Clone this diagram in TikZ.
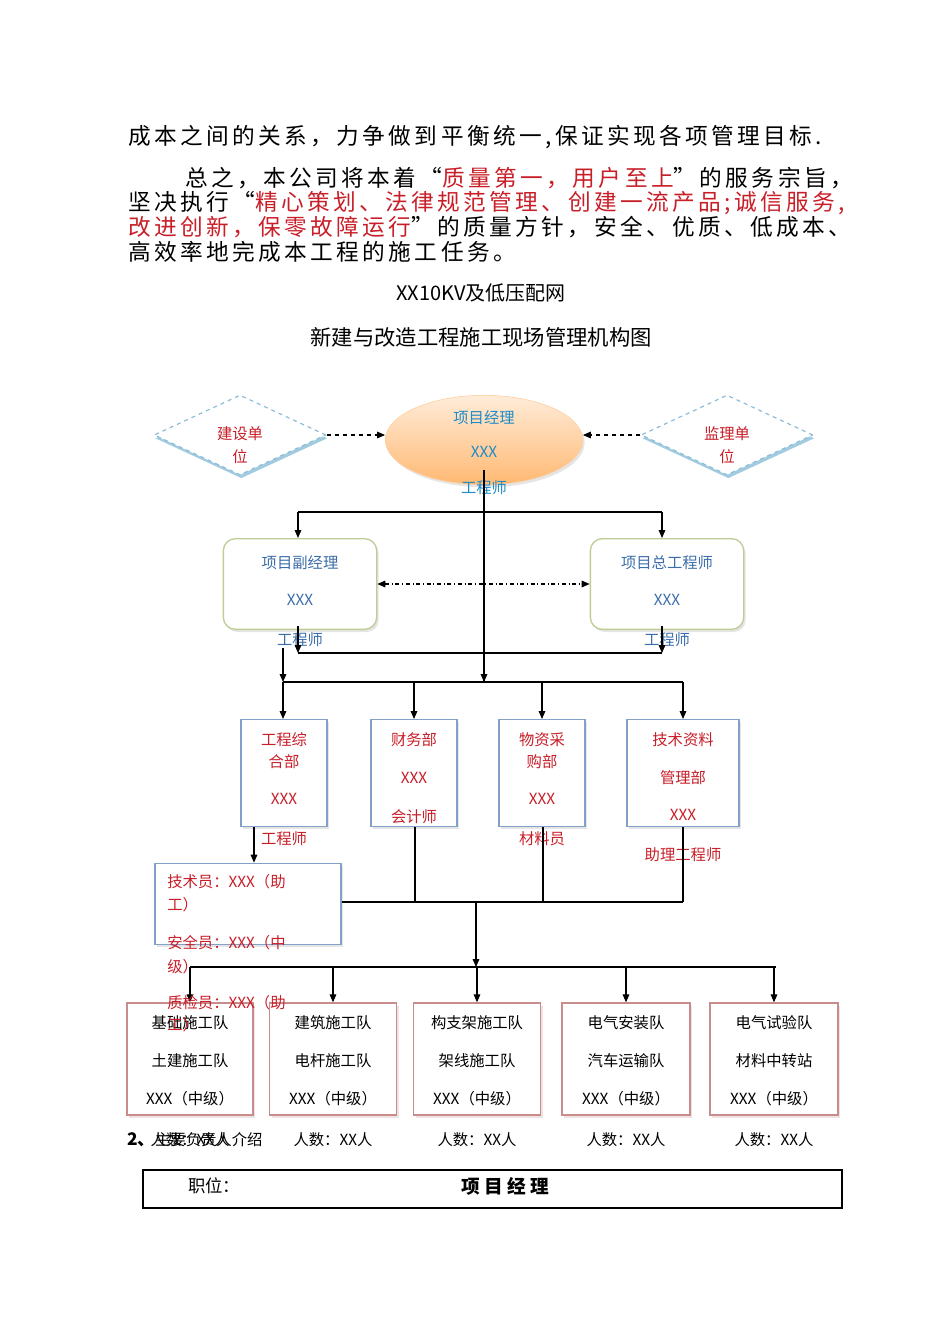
\documentclass[tikz,border=0pt]{standalone}
\usepackage{fontspec}
\setmainfont{Noto Sans CJK SC}
\usetikzlibrary{shapes.geometric,arrows.meta,shadows}
\definecolor{tred}{RGB}{200,30,40}
\definecolor{tblue}{RGB}{30,140,200}
\definecolor{dblue}{RGB}{60,110,170}
\definecolor{lblue}{RGB}{140,190,215}
\definecolor{gbord}{RGB}{190,205,150}
\definecolor{bbord}{RGB}{130,160,200}
\definecolor{pbord}{RGB}{200,140,140}
\tikzset{
  every node/.style={inner sep=0pt},
  para/.style={anchor=west,font=\fontsize{17}{20}\selectfont\addfontfeatures{LetterSpace=15}},
  lab/.style={font=\fontsize{11.5}{13}\selectfont},
  arr/.style={-{Triangle[length=6pt,width=5pt]},line width=0.8pt},
  ln/.style={line width=0.8pt},
  dia/.style={diamond,draw=lblue,dashed,line width=0.9pt,minimum width=129pt,minimum height=60pt,
     drop shadow={shadow xshift=1pt,shadow yshift=-2.5pt,fill=lblue,opacity=0.8},fill=white},
  rbox/.style={draw=gbord,line width=1pt,rounded corners=9pt,fill=white,minimum width=115pt,minimum height=68pt,
     drop shadow={shadow xshift=1.5pt,shadow yshift=-2pt,fill=gray!40}},
  dbox/.style={draw=bbord,line width=1pt,fill=white,drop shadow={shadow xshift=1.5pt,shadow yshift=-2pt,fill=gray!40}},
  tbox/.style={draw=pbord,line width=1pt,fill=white,drop shadow={shadow xshift=1.5pt,shadow yshift=-2pt,fill=pbord!50}},
}
\begin{document}
\begin{tikzpicture}[x=0.75pt,y=-0.75pt]
\useasboundingbox (0,0) rectangle (950,1344);
% paragraph
\node[para] (p1) at (128,137) {成本之间的关系，力争做到平衡统一,保证实现各项管理目标.};
\node[para] (p2) at (185,178) {总之，本公司将本着“\textcolor{tred}{质量第一，用户至上}”的服务宗旨，};
\node[para] (p3) at (128,203) {坚决执行“\textcolor{tred}{精心策划、法律规范管理、创建一流产品;诚信服务,}};
\node[para] (p4) at (128,227) {\textcolor{tred}{改进创新，保零故障运行}”的质量方针，安全、优质、低成本、};
\node[para] (p5) at (128,252) {高效率地完成本工程的施工任务。};
\node[font=\fontsize{15}{18}\selectfont] (t1) at (481,293) {XX10KV及低压配网};
\node[font=\fontsize{16}{18}\selectfont] (t2) at (481,337) {新建与改造工程施工现场管理机构图};
% top
\node[dia] (js) at (240,435) {};
\node[lab,text=tred,align=center] at (240,445) {建设单\\[4pt]位};
\node[dia] (jl) at (727,435) {};
\node[lab,text=tred,align=center] at (727,445) {监理单\\[4pt]位};
\node[ellipse,minimum width=148pt,minimum height=67pt,draw=orange!40,top color=orange!15,bottom color=orange!55,
  drop shadow={shadow xshift=1.5pt,shadow yshift=-2pt,fill=gray!40}] (pm) at (484,440) {};
\node[lab,text=tblue] at (484,418) {项目经理};
\node[lab,text=tblue] at (484,452) {XXX};
\node[lab,text=tblue] (pme) at (484,488) {工程师};
\draw[arr,dashed] (js.east) -- (js.east -| pm.west);
\draw[arr,dashed] (jl.west) -- (jl.west -| pm.east);
% second level
\node[rbox] (fj) at (300,584) {};
\node[lab,text=dblue] at (300,563) {项目副经理};
\node[lab,text=dblue] at (300,600) {XXX};
\node[lab,text=dblue] at (300,640) {工程师};
\node[rbox] (zg) at (667,584) {};
\node[lab,text=dblue] at (667,563) {项目总工程师};
\node[lab,text=dblue] at (667,600) {XXX};
\node[lab,text=dblue] at (667,640) {工程师};
\draw[{Triangle[length=6pt,width=5pt]}-{Triangle[length=6pt,width=5pt]},line width=0.8pt,dash dot] (fj.east) -- (zg.west);
\coordinate (a1) at (484,512); \coordinate (a2) at (298,512); \coordinate (a3) at (662,512);
\draw[ln] (484,470) -- (484,682);
\draw[ln] (a2) -- (a3);
\draw[arr] (a2) -- (fj.north -| a2);
\draw[arr] (a3) -- (zg.north -| a3);
\coordinate (b1) at (298,653); \coordinate (b2) at (662,653);
\draw[arr] (298,626) -- (b1); \draw[arr] (662,626) -- (b2);
\draw[ln] (b1) -- (b2);
% third level
\node[dbox,minimum width=64.5pt,minimum height=80pt] (d1) at (284,773) {};
\node[dbox,minimum width=64.5pt,minimum height=80pt] (d2) at (414,773) {};
\node[dbox,minimum width=64.5pt,minimum height=80pt] (d3) at (542,773) {};
\node[dbox,minimum width=84pt,minimum height=80pt] (d4) at (683,773) {};
\coordinate (c0) at (484,682);
\draw[arr] (283,648) -- (283,682);
\draw[arr] (484,660) -- (c0);
\draw[ln] (283,682) -- (683,682);
\foreach \n/\x in {d1/283,d2/414,d3/542,d4/683}{\draw[arr] (\x,682) -- (\n.north -| \x,0);}
\begin{scope}[every node/.append style={lab,text=tred}]
\node at (284,740) {工程综}; \node at (284,762) {合部}; \node at (284,799) {XXX}; \node at (284,839) {工程师};
\node at (414,740) {财务部}; \node at (414,778) {XXX}; \node at (414,817) {会计师};
\node at (542,740) {物资采}; \node at (542,762) {购部}; \node at (542,799) {XXX}; \node at (542,839) {材料员};
\node at (683,740) {技术资料}; \node at (683,778) {管理部}; \node at (683,815) {XXX}; \node at (683,855) {助理工程师};
\end{scope}
% tech box
\node[dbox,minimum width=139.5pt,minimum height=61pt] (tb) at (248,904) {};
\draw[arr] (254,827) -- (tb.north -| 254,0);
\draw[ln] (415,827) -- (415,902); \draw[ln] (543,827) -- (543,902); \draw[ln] (683,827) -- (683,902);
\draw[ln] (tb.east |- 0,902) -- (683,902);
\coordinate (e0) at (476,967);
\draw[arr] (476,902) -- (e0);
\draw[ln] (190,967) -- (776,967);
% teams
\foreach \n/\x/\w in {t1/190/126,t2/333/127,t3/477/127,t4/626/128,t5/774/128}{
  \node[tbox,minimum width=\w*0.75pt,minimum height=84pt] (\n) at (\x,1059) {};
  \draw[arr] (\x,967) -- (\n.north);}
\begin{scope}[every node/.append style={lab}]
\node at (190,1023) {基础施工队}; \node at (190,1061) {土建施工队}; \node at (190,1099) {XXX（中级）};
\node at (333,1023) {建筑施工队}; \node at (333,1061) {电杆施工队}; \node at (333,1099) {XXX（中级）};
\node at (477,1023) {构支架施工队}; \node at (477,1061) {架线施工队}; \node at (477,1099) {XXX（中级）};
\node at (626,1023) {电气安装队}; \node at (626,1061) {汽车运输队}; \node at (626,1099) {XXX（中级）};
\node at (774,1023) {电气试验队}; \node at (774,1061) {材料中转站}; \node at (774,1099) {XXX（中级）};
\node at (190,1140) {人数：XX人}; \node at (333,1140) {人数：XX人}; \node at (477,1140) {人数：XX人};
\node at (626,1140) {人数：XX人}; \node at (774,1140) {人数：XX人};
\end{scope}
\begin{scope}[every node/.append style={lab,text=tred,anchor=west}]
\node at (167,882) {技术员：XXX（助}; \node at (167,905) {工）};
\node at (167,943) {安全员：XXX（中}; \node at (167,967) {级）};
\node at (167,1003) {质检员：XXX（助}; \node at (167,1025) {工）};
\end{scope}
\node[lab,anchor=west] at (127,1140) {\fontsize{13}{14}\selectfont\bfseries 2、\fontsize{11.5}{13}\selectfont\mdseries 主要负责人介绍};
% bottom
\node[draw,line width=1.5pt,minimum width=524pt,minimum height=28.5pt] (bx) at (492.5,1189) {};
\node[lab,anchor=west,font=\fontsize{13}{14}\selectfont] at (188,1186) {职位：};
\node[font=\fontsize{14}{15}\selectfont\bfseries] at (505,1186) {项\ 目\ 经\ 理};
\end{tikzpicture}
\end{document}
